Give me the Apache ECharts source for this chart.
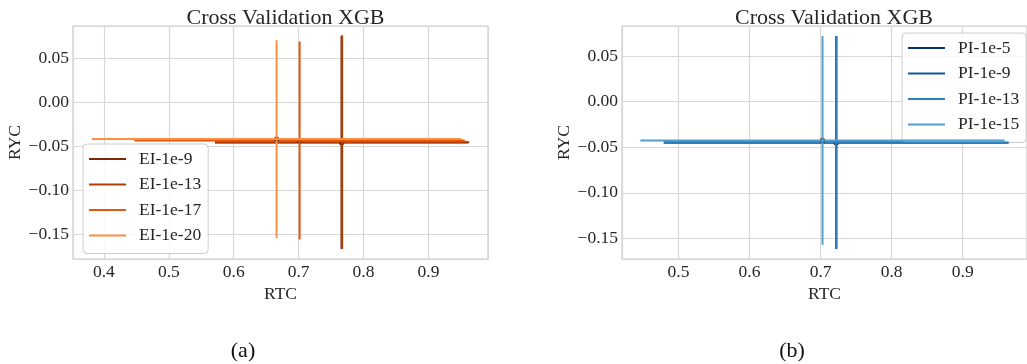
<!DOCTYPE html>
<html><head><meta charset="utf-8">
<script src="https://cdn.jsdelivr.net/npm/echarts@6/dist/echarts.min.js"></script>
<style>html,body{margin:0;padding:0;background:#fff}#c{width:1027px;height:364px}</style>
</head><body><div id="c"></div>
<script>
// ---- text ----
const panelTitle = 'Cross Validation XGB';
const xName = 'RTC';
const yName = 'RYC';
const captions = ['(a)', '(b)'];

// ---- panel (a) : EI series (x, y, x-error, y-error) ----
const eiNames = ['EI-1e-9', 'EI-1e-13', 'EI-1e-17', 'EI-1e-20'];
const eiX = [0.766, 0.767, 0.7015, 0.666];
const eiY = [-0.0455, -0.0451, -0.0432, -0.0416];
const eiXErr = [0.195, 0.1958, 0.2545, 0.2843];
const eiYErr = [0.121, 0.1216, 0.1125, 0.1124];
const eiColors = ['#7f2704', '#b33d04', '#e6560d', '#fd8f40'];

// ---- panel (b) : PI series ----
const piNames = ['PI-1e-5', 'PI-1e-9', 'PI-1e-13', 'PI-1e-15'];
const piX = [0.722, 0.722, 0.722, 0.7027];
const piY = [-0.0447, -0.0447, -0.0447, -0.0425];
const piXErr = [0.2426, 0.2426, 0.2426, 0.2563];
const piYErr = [0.1166, 0.1166, 0.1166, 0.1144];
const piColors = ['#08306b', '#0d57a1', '#2e7ebc', '#539ecd'];

// ---- axes ----
const xRangeA = [0.3524, 0.9917];
const yRangeA = [-0.178, 0.087];
const xRangeB = [0.4205, 0.9905];
const yRangeB = [-0.1725, 0.083];
const xTickValues = [0.4, 0.5, 0.6, 0.7, 0.8, 0.9];
const xTickLabels = ['0.4', '0.5', '0.6', '0.7', '0.8', '0.9'];
const yTickValues = [-0.15, -0.10, -0.05, 0.00, 0.05];
const yTickLabels = ['\u22120.15', '\u22120.10', '\u22120.05', '0.00', '0.05'];

const FONT = '"Liberation Serif", "DejaVu Serif", serif';
const TXT = '#262626';

function lookup(vals, labels) {
  return function (v) {
    for (let i = 0; i < vals.length; i++) if (Math.abs(vals[i] - v) < 1e-6) return labels[i];
    return '';
  };
}

function renderErr(params, api) {
  const x = api.value(0), y = api.value(1), ex = api.value(2), ey = api.value(3);
  const c = api.coord([x, y]);
  const l = api.coord([x - ex, y]), r = api.coord([x + ex, y]);
  const t = api.coord([x, y + ey]), b = api.coord([x, y - ey]);
  const color = api.visual('color');
  return {
    type: 'group',
    children: [
      { type: 'circle', shape: { cx: c[0], cy: c[1], r: 2.6 }, style: { fill: '#2a2a2a' } },
      { type: 'line', shape: { x1: l[0], y1: l[1], x2: r[0], y2: r[1] }, style: { stroke: color, lineWidth: 2 } },
      { type: 'line', shape: { x1: t[0], y1: t[1], x2: b[0], y2: b[1] }, style: { stroke: color, lineWidth: 2 } }
    ]
  };
}

function makeSeries(names, xs, ys, exs, eys, colors, idx) {
  return names.map((n, i) => ({
    type: 'custom',
    name: n,
    xAxisIndex: idx,
    yAxisIndex: idx,
    renderItem: renderErr,
    itemStyle: { color: colors[i] },
    encode: { x: 0, y: 1 },
    data: [[xs[i], ys[i], exs[i], eys[i]]],
    z: 2 + i
  }));
}

function xAxis(idx, range) {
  return {
    type: 'value', gridIndex: idx, min: range[0], max: range[1], splitNumber: 6,
    name: xName, nameLocation: 'middle', nameGap: 18,
    nameTextStyle: { fontFamily: FONT, fontSize: 17.5, color: TXT },
    axisLine: { show: false }, axisTick: { show: false },
    axisLabel: { fontFamily: FONT, fontSize: 17.5, color: TXT, margin: 4,
      showMinLabel: false, showMaxLabel: false,
      formatter: lookup(xTickValues, xTickLabels) },
    splitLine: { show: true, lineStyle: { color: '#d8d8d8', width: 1.2 } }
  };
}
function yAxis(idx, range) {
  return {
    type: 'value', gridIndex: idx, min: range[0], max: range[1], splitNumber: 5,
    name: yName, nameLocation: 'middle', nameGap: 49,
    nameTextStyle: { fontFamily: FONT, fontSize: 17.5, color: TXT },
    axisLine: { show: false }, axisTick: { show: false },
    axisLabel: { fontFamily: FONT, fontSize: 17.5, color: TXT, margin: 4,
      showMinLabel: false, showMaxLabel: false,
      formatter: lookup(yTickValues, yTickLabels) },
    splitLine: { show: true, lineStyle: { color: '#d8d8d8', width: 1.2 } }
  };
}

function legend(names, left, top) {
  return {
    data: names, orient: 'vertical', left: left, top: top,
    icon: 'rect', itemWidth: 37, itemHeight: 2, itemGap: 7.5,
    padding: [6, 7, 9, 6],
    backgroundColor: 'rgba(255,255,255,0.85)', borderColor: '#cccccc', borderWidth: 1, borderRadius: 4,
    textStyle: { fontFamily: FONT, fontSize: 17.5, color: TXT, lineHeight: 17.5, padding: [0, 0, 0, 8] },
    selectedMode: false
  };
}

const chart = echarts.init(document.getElementById('c'), null, { renderer: 'canvas' });
chart.setOption({
  animation: false,
  backgroundColor: '#ffffff',
  title: [
    { text: panelTitle, left: 280.5, top: 2, textAlign: 'center',
      textStyle: { fontFamily: FONT, fontSize: 22, fontWeight: 'normal', color: TXT } },
    { text: panelTitle, left: 829, top: 2, textAlign: 'center',
      textStyle: { fontFamily: FONT, fontSize: 22, fontWeight: 'normal', color: TXT } },
    { text: captions[0], left: 238, top: 335, textAlign: 'center',
      textStyle: { fontFamily: FONT, fontSize: 22, fontWeight: 'normal', color: '#111' } },
    { text: captions[1], left: 787, top: 335, textAlign: 'center',
      textStyle: { fontFamily: FONT, fontSize: 22, fontWeight: 'normal', color: '#111' } }
  ],
  grid: [
    { left: 73, top: 26, width: 415, height: 233, show: true, borderColor: '#cccccc', borderWidth: 1.25, backgroundColor: '#fff' },
    { left: 622, top: 26, width: 414, height: 233, show: true, borderColor: '#cccccc', borderWidth: 1.25, backgroundColor: '#fff' }
  ],
  xAxis: [xAxis(0, xRangeA), xAxis(1, xRangeB)],
  yAxis: [yAxis(0, yRangeA), yAxis(1, yRangeB)],
  legend: [legend(eiNames, 83, 144), legend(piNames, 902, 33)],
  series: makeSeries(eiNames, eiX, eiY, eiXErr, eiYErr, eiColors, 0)
    .concat(makeSeries(piNames, piX, piY, piXErr, piYErr, piColors, 1))
});
</script>
</body></html>
